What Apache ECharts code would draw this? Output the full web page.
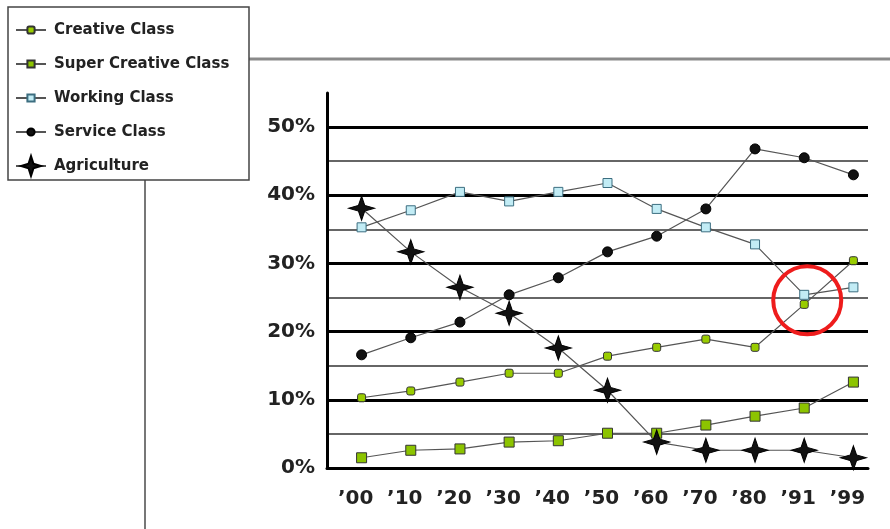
<!DOCTYPE html>
<html>
<head>
<meta charset="utf-8">
<script src="https://cdn.jsdelivr.net/npm/echarts@6/dist/echarts.min.js"></script>
<style>
html,body{margin:0;padding:0;background:#fff;}
#chart{width:890px;height:529px;}
</style>
</head>
<body>
<div id="chart"></div>
<script>
// ---- data (percent of workforce) ----
var decades = ['\u201900','\u201910','\u201920','\u201930','\u201940','\u201950','\u201960','\u201970','\u201980','\u201991','\u201999'];
var creativeClass      = [10.3, 11.3, 12.6, 13.9, 13.9, 16.4, 17.7, 18.9, 17.7, 24.0, 30.4];
var superCreativeClass = [1.5, 2.6, 2.8, 3.8, 4.0, 5.1, 5.1, 6.3, 7.6, 8.8, 12.6];
var workingClass       = [35.3, 37.8, 40.5, 39.1, 40.5, 41.8, 38.0, 35.3, 32.8, 25.4, 26.5];
var serviceClass       = [16.6, 19.1, 21.4, 25.4, 27.9, 31.7, 34.0, 38.0, 46.8, 45.5, 43.0];
var agriculture        = [38.1, 31.7, 26.5, 22.7, 17.6, 11.4, 3.8, 2.6, 2.6, 2.6, 1.5];
var yTicks = [0, 10, 20, 30, 40, 50];
var highlight = { index: 9, value: 24.6 };

var FONT = 'DejaVu Sans';
var STAR = 'path://M0,-10 L2.4,-2.4 L10,0 L2.4,2.4 L0,10 L-2.4,2.4 L-10,0 L-2.4,-2.4 Z';
var LINE = { color: '#555', width: 1.2 };

var chart = echarts.init(document.getElementById('chart'), null, { renderer: 'canvas' });

function lineSeries(name, data, symbol, size, fill, border, extra) {
  var s = {
    name: name, type: 'line', xAxisIndex: 1, yAxisIndex: 2,
    data: data, symbol: symbol, symbolSize: size, showAllSymbol: true,
    lineStyle: LINE,
    itemStyle: { color: fill, borderColor: border, borderWidth: 1 },
    emphasis: { disabled: true }, animation: false, z: 3
  };
  if (extra) for (var k in extra) s[k] = extra[k];
  return s;
}

var option = {
  backgroundColor: '#fff',
  animation: false,
  graphic: [
    { type: 'line', z: -1, shape: { x1: 145, y1: 59, x2: 890, y2: 59 }, style: { stroke: '#8a8a8a', lineWidth: 3 } },
    { type: 'line', z: -1, shape: { x1: 145, y1: 59, x2: 145, y2: 529 }, style: { stroke: '#777', lineWidth: 2 } },
    { type: 'rect', z: 0, shape: { x: 8, y: 7, width: 241, height: 173 }, style: { fill: '#fff', stroke: '#444', lineWidth: 1.5 } }
  ],
  legend: [
    {
      orient: 'vertical', left: 15, top: 20, padding: 0,
      itemWidth: 30, itemHeight: 9, itemGap: 14,
      selectedMode: false,
      data: ['Creative Class', 'Super Creative Class', 'Working Class', 'Service Class'],
      textStyle: { fontFamily: FONT, fontWeight: 'bold', fontSize: 15, color: '#222', lineHeight: 20, padding: [0, 0, 0, 3] }
    },
    {
      orient: 'vertical', left: 15, top: 155, padding: 0,
      itemWidth: 30, itemHeight: 25,
      selectedMode: false,
      data: ['Agriculture'],
      textStyle: { fontFamily: FONT, fontWeight: 'bold', fontSize: 15, color: '#222', lineHeight: 20, padding: [0, 0, 0, 3] }
    }
  ],
  grid: [
    { left: 327, top: 93, width: 541, height: 375, containLabel: false },
    { left: 337, top: 93, width: 541, height: 375, containLabel: false }
  ],
  xAxis: [
    {
      type: 'category', gridIndex: 0, data: decades, boundaryGap: true,
      axisLine: { lineStyle: { color: '#000', width: 3 } },
      axisTick: { show: false },
      axisLabel: { margin: 21, fontFamily: FONT, fontWeight: 'bold', fontSize: 20, color: '#222', padding: [0, 0, 0, 8], interval: 0 },
      splitLine: { show: false }
    },
    {
      type: 'category', gridIndex: 1, data: decades, boundaryGap: true, show: false
    }
  ],
  yAxis: [
    {
      type: 'value', gridIndex: 0, position: 'left', min: 0, max: 55, interval: 5,
      axisLine: { show: false }, axisTick: { show: false }, axisLabel: { show: false },
      splitLine: { show: true, showMaxLine: false, lineStyle: { color: '#666', width: 2 } }
    },
    {
      type: 'value', gridIndex: 0, position: 'left', min: 0, max: 55, interval: 10, z: 1,
      axisLine: { show: true, lineStyle: { color: '#000', width: 3 } },
      axisTick: { show: false },
      axisLabel: {
        margin: 12, fontFamily: FONT, fontWeight: 'bold', fontSize: 20, color: '#222',
        formatter: function (v) { return yTicks.indexOf(v) >= 0 ? v + '%' : ''; }
      },
      splitLine: { show: true, showMaxLine: false, lineStyle: { color: '#000', width: 3 } }
    },
    {
      type: 'value', gridIndex: 1, min: 0, max: 55, show: false, splitLine: { show: false }
    }
  ],
  series: [
    lineSeries('Creative Class', creativeClass, 'roundRect', 8, '#99cc00', '#333', {
      markPoint: {
        symbol: 'circle', symbolSize: 68, silent: true, animation: false,
        itemStyle: { color: 'rgba(0,0,0,0)', borderColor: '#ee1c1c', borderWidth: 4 },
        label: { show: false },
        data: [{ coord: [highlight.index, highlight.value], symbolOffset: [3, 0] }]
      }
    }),
    lineSeries('Super Creative Class', superCreativeClass, 'rect', 10, '#8cc400', '#333'),
    lineSeries('Working Class', workingClass, 'rect', 9, '#c2ecf5', '#3c6e80'),
    lineSeries('Service Class', serviceClass, 'circle', 10, '#111', '#000'),
    lineSeries('Agriculture', agriculture, STAR, [26, 24], '#111', '#000', { lineStyle: { color: '#555', width: 1.2 } })
  ]
};
chart.setOption(option);
</script>
</body>
</html>
